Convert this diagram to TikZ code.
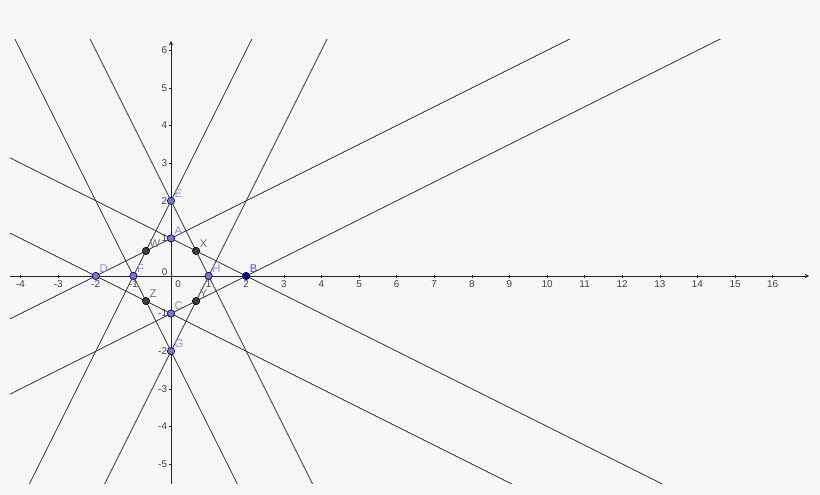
\documentclass[tikz,border=0pt]{standalone}
\usepackage{fontspec}
\setmainfont{Liberation Sans}
\usetikzlibrary{calc}
\tikzset{
  recta/.style={black!80,line width=0.6pt},
  eje/.style={black!85,line width=0.55pt,-stealth},
  marca/.style={font=\fontsize{7.5}{8}\selectfont,text=black!75,inner sep=0pt},
  libre/.style={circle,draw=blue!35!black,fill=blue!45!white!85!black,line width=0.5pt,inner sep=0pt,minimum size=5.5pt},
  fijo/.style={libre,draw=blue!30!black,fill=blue!55!black},
  corte/.style={libre,draw=black,fill=black!75},
  etq/.style={font=\fontsize{8.5}{9}\selectfont,text=blue!45!white,inner sep=0.5pt,label distance=0pt},
  etqc/.style={etq,text=black!55}
}
\begin{document}
\begin{tikzpicture}
        %colores
        \colorlet{fondo}{black!3!white}
        % Fondo y margenes
        \fill[fondo] (-4.548,-5.824) rectangle (17.26,7.34);
        \useasboundingbox (-4.548,-5.824) rectangle (17.26,7.34);

        % Puntos
        \coordinate (A) at (0,1);
        \coordinate (B) at (2,0);
        \coordinate (C) at (0,-1);
        \coordinate (D) at (-2,0);
        \coordinate (E) at (0,2);
        \coordinate (F) at (-1,0);
        \coordinate (G) at (0,-2);
        \coordinate (H) at (1,0);
        \coordinate (W) at (intersection of D--A and F--E);
        \coordinate (X) at (intersection of A--B and E--H);
        \coordinate (Y) at (intersection of C--B and G--H);
        \coordinate (Z) at (intersection of D--C and F--G);

        %Ejes y numeracion
        \begin{scope}
            \draw[eje] (-4.28,0) -- (16.97,0) coordinate (x axis);
            \draw[eje] (0,-5.53) -- (0,6.25) coordinate (y axis);
            \foreach \x in {-4,-3,-2,-1,1,2,3,4,5,6,7,8,9,10,11,12,13,14,15,16}
            \draw[xshift=\x cm,black!85] (0pt,1pt) -- (0pt,-1.8pt) node[marca,anchor=north,yshift=-1.4pt] {\x};
            \foreach \y in {-5,-4,-3,-2,-1,1,2,3,4,5,6}
            \draw[yshift=\y cm,black!85] (1pt,0pt) -- (-1.8pt,0pt) node[marca,anchor=east,xshift=-1pt] {\y};
            \node[marca] (cero x) at (0.19,-0.21) {0};
            \node[marca] (cero y) at (-0.17,0.1) {0};
        \end{scope}

        % Rectas
        \begin{scope}
            \clip (-4.28,-5.53) rectangle (17,6.28);
            \foreach \p/\q in {D/A,C/B,A/B,D/C,F/E,G/H,E/H,F/G}
            \draw[recta] ($(\p)!-6!(\q)$) -- ($(\p)!10!(\q)$);
        \end{scope}

        % Marcas de los puntos
        \foreach \n in {A,C,D,E,F,G,H}
        \node[libre,label={[etq]45:\n}] (p\n) at (\n) {};
        \node[fijo,label={[etq,text=blue!70!white]45:B}] (pB) at (B) {};
        \foreach \n in {W,X,Y,Z}
        \node[corte,label={[etqc]45:\n}] (p\n) at (\n) {};
    \end{tikzpicture}
\end{document}
